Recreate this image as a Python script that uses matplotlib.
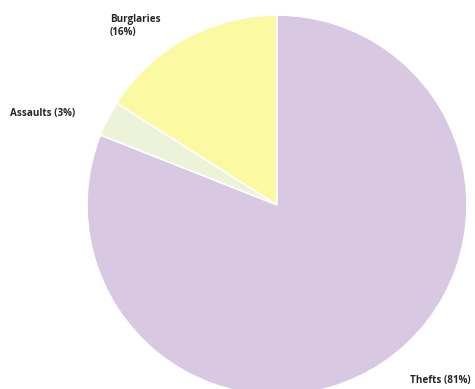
import matplotlib
matplotlib.use('Agg')
import matplotlib.pyplot as plt

categories = ['Burglaries', 'Assaults', 'Thefts']
shares = [16, 3, 81]
colors = ['#fbf9a2', '#edf3d9', '#d9c8e2']

fig = plt.figure(figsize=(4.75, 3.89), dpi=100)
ax = fig.add_axes([0, 0, 1, 1])

ax.pie(shares, colors=colors, startangle=90, counterclock=True,
       center=(277, 184), radius=190, frame=True,
       wedgeprops=dict(edgecolor='white', linewidth=1.2))
ax.set_xlim(0, 475)
ax.set_ylim(0, 389)
ax.set_aspect('equal')
ax.axis('off')

labels = [f'{c} ({s}%)' for c, s in zip(categories, shares)]
labels[0] = labels[0].replace(' (', '\n(')
label_pos = [(110, 363), (10, 276), (410, 9)]
for lab, (x, y) in zip(labels, label_pos):
    ax.text(x, y, lab, ha='left', va='center', fontsize=7.1, fontweight='bold',
            family=['Open Sans', 'DejaVu Sans'], color='#262626', linespacing=1.3)

fig.savefig('out.png', dpi=100)
